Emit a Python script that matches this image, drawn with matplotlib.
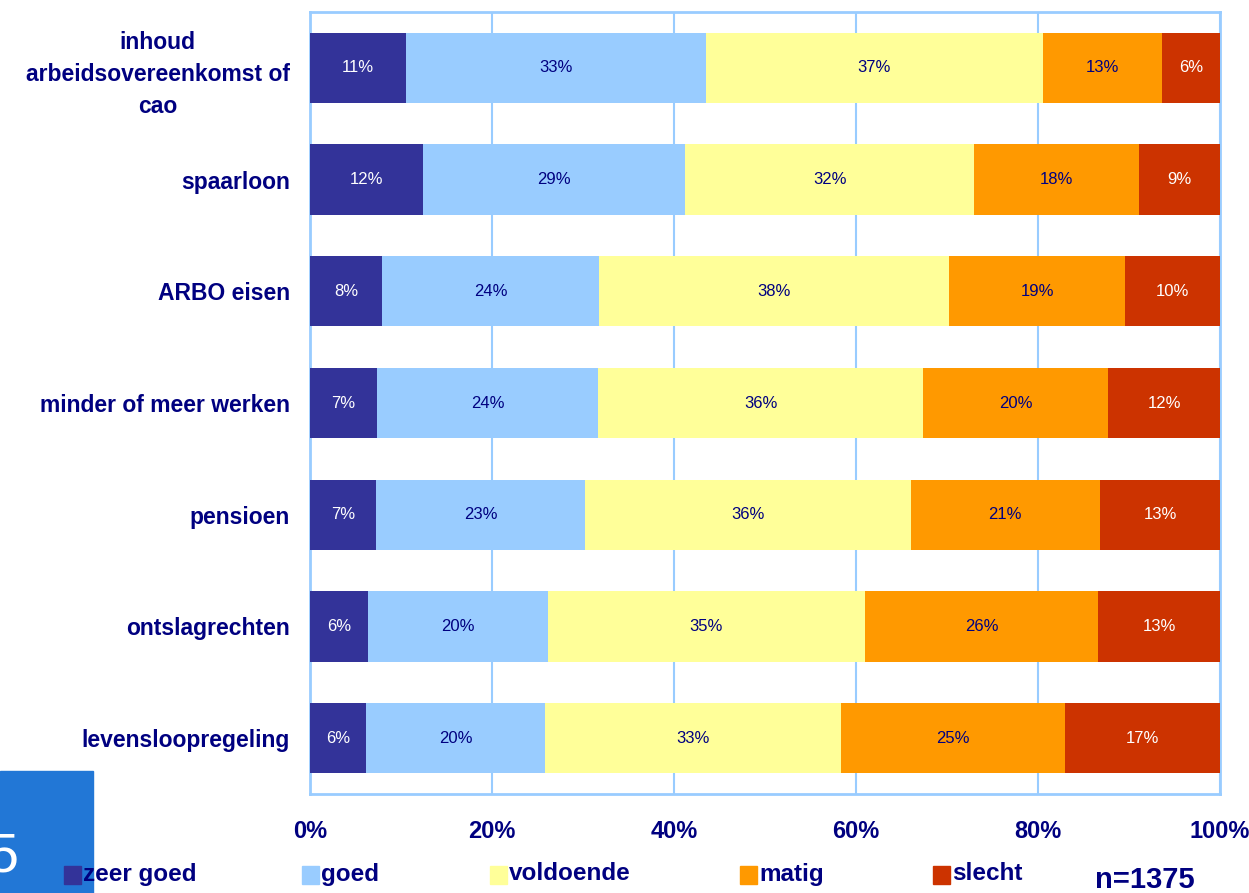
import matplotlib.pyplot as plt
from matplotlib.patches import Rectangle

plt.rcParams['font.family'] = ['Liberation Sans', 'DejaVu Sans']

# onderwerpen (van boven naar beneden)
onderwerpen = ['inhoud\narbeidsovereenkomst of\ncao', 'spaarloon', 'ARBO eisen',
               'minder of meer werken', 'pensioen', 'ontslagrechten',
               'levensloopregeling']
oordelen = ['zeer goed', 'goed', 'voldoende', 'matig', 'slecht']

zeer_goed = [10.6, 12.4, 7.9, 7.4, 7.3, 6.4, 6.2]
goed = [32.9, 28.8, 23.9, 24.3, 22.9, 19.7, 19.6]
voldoende = [37.0, 31.8, 38.4, 35.7, 35.8, 34.9, 32.6]
matig = [13.1, 18.1, 19.4, 20.3, 20.8, 25.6, 24.6]
slecht = [6.4, 8.9, 10.4, 12.3, 13.2, 13.4, 17.0]

kleuren = ['#333399', '#99CCFF', '#FFFF99', '#FF9900', '#CC3300']
tekstkleur = ['white', '#000080', '#000080', '#000080', 'white']
navy = '#000080'

reeksen = [zeer_goed, goed, voldoende, matig, slecht]

fig = plt.figure(figsize=(12.49, 8.93), dpi=100)
ax = fig.add_axes([310 / 1249, 1 - 794 / 893, 910 / 1249, 782 / 893])

y = list(range(len(onderwerpen)))
links = [0.0] * len(onderwerpen)
for waarden, kleur, tk in zip(reeksen, kleuren, tekstkleur):
    ax.barh(y, waarden, left=links, height=0.63, color=kleur, zorder=3)
    for i, v in enumerate(waarden):
        ax.text(links[i] + v / 2, i, f'{round(v)}%', ha='center', va='center',
                color=tk, fontsize=12, zorder=4)
    links = [l + v for l, v in zip(links, waarden)]

ax.set_xlim(0, 100)
ax.set_ylim(len(onderwerpen) - 0.5, -0.5)
ax.set_xticks([0, 20, 40, 60, 80, 100])
ax.set_xticklabels(['0%', '20%', '40%', '60%', '80%', '100%'],
                   fontsize=17, fontweight='bold', color=navy)
ax.set_yticks(y)
ax.set_yticklabels(onderwerpen, fontsize=16.5, fontweight='bold', color=navy,
                   linespacing=1.5)
for lbl in ax.get_yticklabels():
    lbl.set_multialignment('center')
ax.tick_params(axis='both', length=0)
ax.tick_params(axis='x', pad=19)
ax.tick_params(axis='y', pad=14.5)
ax.grid(axis='x', color='#99CCFF', linewidth=1.5, zorder=0)
for s in ax.spines.values():
    s.set_color('#99CCFF')
    s.set_linewidth(2)

# legenda onderaan
leg_x = [64, 302, 490, 740, 933]
for x, naam, kleur in zip(leg_x, oordelen, kleuren):
    fig.add_artist(Rectangle((x / 1249, 1 - 884 / 893), 17 / 1249, 18 / 893,
                             transform=fig.transFigure, color=kleur, zorder=5))
    fig.text((x + 19) / 1249, 1 - 874 / 893, naam, fontsize=17.5, fontweight='bold',
             color=navy, va='center', ha='left', zorder=6)

fig.text(1145 / 1249, 1 - 880 / 893, 'n=1375', fontsize=21, fontweight='bold',
         color=navy, ha='center', va='center')

# blauw dia-element linksonder
fig.add_artist(Rectangle((0, 0), 93 / 1249, 122 / 893, transform=fig.transFigure,
                         color='#2277D6', zorder=1))
fig.text(-12 / 1249, 1 - 858 / 893, '5', fontsize=40, color='white',
         ha='left', va='center', zorder=2)

fig.savefig('out.png', dpi=100)
